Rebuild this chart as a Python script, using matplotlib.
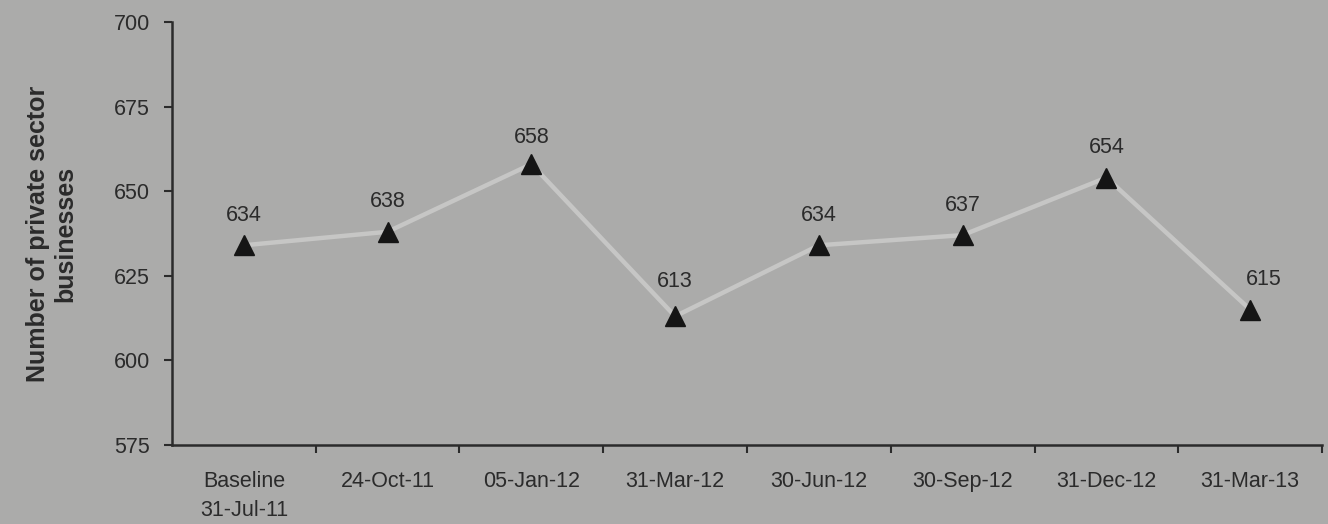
import matplotlib
matplotlib.use("Agg")
import matplotlib.pyplot as plt

categories = ["Baseline\n31-Jul-11", "24-Oct-11", "05-Jan-12", "31-Mar-12",
              "30-Jun-12", "30-Sep-12", "31-Dec-12", "31-Mar-13"]
businesses = [634, 638, 658, 613, 634, 637, 654, 615]
y_ticks = [575, 600, 625, 650, 675, 700]

# label offsets (points) for the value annotations; a few sit a little apart
label_offsets = {2: (0, 15), 3: (0, 21), 7: (10, 18)}

plt.rcParams["font.family"] = ["Liberation Sans", "DejaVu Sans"]
bg = "#ababaa"
ink = "#2b2b2b"

fig = plt.figure(figsize=(13.28, 5.24), dpi=100, facecolor=bg)
ax = fig.add_axes([0.1295, 0.151, 0.866, 0.807], facecolor=bg)

x = list(range(len(categories)))
ax.plot(x, businesses, color="#c6c6c5", lw=3.2, zorder=2)
ax.plot(x, businesses, ls="none", marker="^", ms=15, color="#151515", zorder=3)
for xi, v in zip(x, businesses):
    ax.annotate(str(v), (xi, v), xytext=label_offsets.get(xi, (0, 17.5)),
                textcoords="offset points", ha="center", va="baseline",
                fontsize=15.5, color=ink)

ax.set_xlim(-0.5, len(categories) - 0.5)
ax.set_ylim(575, 700)
ax.set_yticks(y_ticks)
ax.tick_params(axis="y", labelsize=15.5, colors=ink, length=6, width=1.5, pad=10)

ax.set_xticks(x)
ax.set_xticklabels(categories, fontsize=15.5, color=ink, linespacing=1.5)
ax.set_xticks([i + 0.5 for i in range(len(categories))], minor=True)
ax.tick_params(axis="x", which="major", length=0, pad=19)
ax.tick_params(axis="x", which="minor", length=6, width=1.5, color=ink)

for side in ("top", "right"):
    ax.spines[side].set_visible(False)
for side in ("left", "bottom"):
    ax.spines[side].set_color(ink)
    ax.spines[side].set_linewidth(1.8)

ax.set_ylabel("Number of private sector\nbusinesses", fontsize=18, fontweight="bold",
              color=ink, linespacing=1.2)
ax.yaxis.set_label_coords(-0.082, 0.5)

fig.savefig("out.png", facecolor=bg)
